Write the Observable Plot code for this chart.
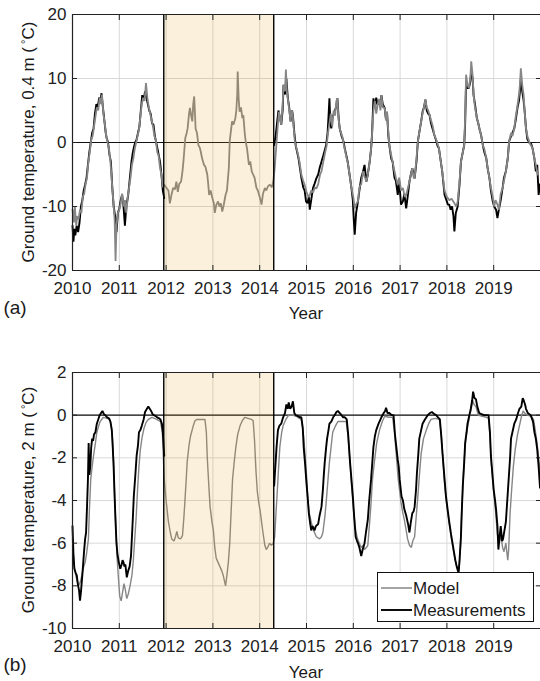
<!DOCTYPE html>
<html><head><meta charset="utf-8">
<script src="https://cdn.jsdelivr.net/npm/d3@7"></script>
<script src="https://cdn.jsdelivr.net/npm/@observablehq/plot@0.6"></script>
<style>
body{margin:0;background:#fff;}
#wrap{position:relative;width:540px;height:681px;font-family:'Liberation Sans',Arial,sans-serif;color:#1a1a1a;overflow:hidden;}
#wrap svg{display:block;}
.lbl{position:absolute;white-space:nowrap;font-size:17px;line-height:1;transform:translate(-50%,-50%);}
.ylab{transform:translate(-50%,-50%) rotate(-90deg);}
.deg{font-size:11px;position:relative;top:-5px;margin-left:3px;}
.pan{font-size:19px;}
#legend{position:absolute;left:377px;top:572px;width:157px;height:50px;box-sizing:border-box;border:1px solid #111;background:#fff;font-size:17px;}
#legend .row{position:absolute;left:2px;height:20px;display:flex;align-items:center;}
#legend .row span{margin-left:1px;line-height:1;}
</style></head>
<body><div id="wrap"></div>
<script>
const years = [2010,2011,2012,2013,2014,2015,2016,2017,2018,2019];
const xDomain = [2010, 2020];
const yTicksA = [-20,-10,0,10,20];
const yTicksB = [-10,-8,-6,-4,-2,0,2];
const gap = [2011.95, 2014.30];
const legendLabels = ["Model", "Measurements"];

// Panel (a): ground temperature at 0.4 m
const modelA = [[2010.00,-10.5],[2010.03,-12.5],[2010.05,-10],[2010.08,-13],[2010.10,-11.5],[2010.13,-12],[2010.16,-10.5],[2010.19,-11],[2010.22,-8.5],[2010.25,-8],[2010.28,-6.5],[2010.31,-5.5],[2010.34,-3],[2010.37,-1.5],[2010.40,0.5],[2010.43,1],[2010.46,2.5],[2010.49,4],[2010.52,5.5],[2010.55,5],[2010.58,7],[2010.61,6],[2010.63,7.5],[2010.66,4.5],[2010.69,3],[2010.72,1],[2010.75,0],[2010.78,-1],[2010.81,-3],[2010.84,-6],[2010.87,-9],[2010.90,-12],[2010.92,-18.5],[2010.94,-13],[2010.97,-11],[2011.00,-10.5],[2011.03,-9.5],[2011.06,-8],[2011.09,-10],[2011.12,-9],[2011.15,-11],[2011.18,-8.5],[2011.21,-7],[2011.24,-5.5],[2011.27,-3.5],[2011.30,-2.5],[2011.33,-1],[2011.36,0],[2011.39,1],[2011.42,2],[2011.45,4],[2011.48,6],[2011.51,7],[2011.54,6.5],[2011.57,9.3],[2011.60,7],[2011.63,5.5],[2011.66,4.5],[2011.69,3.5],[2011.72,2.5],[2011.75,1],[2011.78,0.5],[2011.81,-1.5],[2011.84,-2],[2011.87,-4],[2011.90,-5],[2011.93,-7],[2011.96,-6.6],[2012.01,-7.1],[2012.05,-7.5],[2012.08,-9.5],[2012.12,-8],[2012.15,-7.1],[2012.19,-7.3],[2012.22,-6.1],[2012.25,-7.7],[2012.28,-6.5],[2012.32,-6.1],[2012.35,-4.5],[2012.37,-3],[2012.41,0.7],[2012.44,1.5],[2012.46,2.2],[2012.49,4.5],[2012.51,5.4],[2012.54,4],[2012.56,3.3],[2012.58,6],[2012.60,7.2],[2012.62,4],[2012.63,2.2],[2012.66,1.5],[2012.69,-0.4],[2012.72,-0.8],[2012.74,-1.4],[2012.77,-2.5],[2012.81,-3.5],[2012.84,-3.8],[2012.88,-5],[2012.90,-6.5],[2012.92,-8.2],[2012.95,-7.5],[2012.99,-8.7],[2013.02,-9.5],[2013.04,-11],[2013.07,-9.8],[2013.11,-9.2],[2013.14,-10],[2013.17,-9.5],[2013.20,-10.8],[2013.23,-9.8],[2013.27,-8.2],[2013.30,-7.5],[2013.34,-4],[2013.36,0.2],[2013.38,1.5],[2013.41,3.3],[2013.44,2.8],[2013.48,3.8],[2013.50,5],[2013.52,7.5],[2013.53,11.1],[2013.55,7],[2013.57,4.8],[2013.60,5.5],[2013.63,3.8],[2013.65,4.3],[2013.68,1.5],[2013.70,0.2],[2013.73,-1],[2013.77,-3.5],[2013.80,-3],[2013.83,-4.5],[2013.86,-5],[2013.89,-5.5],[2013.93,-7.1],[2013.96,-7.5],[2014.00,-8.5],[2014.04,-9.7],[2014.07,-8],[2014.11,-7.1],[2014.14,-7.5],[2014.18,-6.8],[2014.22,-6.6],[2014.26,-7],[2014.29,-6.1],[2014.32,-4],[2014.35,-1],[2014.38,2],[2014.41,4.8],[2014.44,3.5],[2014.46,2.8],[2014.49,6],[2014.51,9],[2014.54,8],[2014.56,11.4],[2014.58,8],[2014.61,6.4],[2014.64,4.5],[2014.66,3.3],[2014.68,5],[2014.70,4.8],[2014.73,2],[2014.75,0.2],[2014.79,-1],[2014.82,-1.9],[2014.85,-3],[2014.89,-5],[2014.93,-6],[2014.96,-6.6],[2015.00,-7.7],[2015.04,-8.5],[2015.07,-8.2],[2015.10,-7.5],[2015.14,-7.8],[2015.18,-7],[2015.21,-7.2],[2015.25,-6.5],[2015.29,-5],[2015.32,-4.5],[2015.36,-3],[2015.40,-1.5],[2015.43,-0.5],[2015.46,1.5],[2015.49,3],[2015.52,4.5],[2015.55,2.5],[2015.58,5],[2015.61,4.2],[2015.64,6.5],[2015.66,6.9],[2015.68,4],[2015.71,2.2],[2015.74,1.5],[2015.77,0.8],[2015.80,-0.5],[2015.83,-1.5],[2015.86,-2.5],[2015.89,-3.5],[2015.92,-5],[2015.96,-7.1],[2016.00,-8.5],[2016.03,-10.3],[2016.07,-9.5],[2016.10,-9.2],[2016.13,-7],[2016.17,-6.5],[2016.21,-4.5],[2016.25,-5.5],[2016.28,-6.1],[2016.31,-5],[2016.35,-3],[2016.38,-1],[2016.40,1.2],[2016.43,5],[2016.46,6.5],[2016.49,4.5],[2016.52,5.9],[2016.55,6.8],[2016.58,5],[2016.60,7.4],[2016.63,5.5],[2016.67,5.4],[2016.70,3.5],[2016.72,4.8],[2016.75,1.5],[2016.77,-0.4],[2016.81,-2],[2016.84,-3],[2016.88,-4.5],[2016.91,-5.5],[2016.95,-6.6],[2016.98,-5.5],[2017.02,-7.5],[2017.06,-7.1],[2017.10,-8.5],[2017.13,-8.2],[2017.17,-7],[2017.20,-6.1],[2017.23,-5],[2017.26,-4],[2017.29,-5.5],[2017.31,-5.6],[2017.35,-2.5],[2017.38,0.2],[2017.42,2],[2017.45,3.3],[2017.48,4.5],[2017.51,5.5],[2017.54,6.7],[2017.57,5.5],[2017.60,5],[2017.63,4.3],[2017.66,3.5],[2017.70,2.5],[2017.73,1.2],[2017.77,0.5],[2017.80,-0.2],[2017.83,-0.9],[2017.87,-3],[2017.90,-4.5],[2017.95,-7.5],[2018.00,-8.5],[2018.05,-9],[2018.10,-8.8],[2018.16,-9.5],[2018.20,-10],[2018.23,-9.2],[2018.27,-6],[2018.30,-3],[2018.34,-1.5],[2018.37,-0.4],[2018.39,4],[2018.41,10.6],[2018.44,9],[2018.47,8.5],[2018.50,10],[2018.52,12.7],[2018.55,10.5],[2018.57,7.4],[2018.60,5.5],[2018.64,3.8],[2018.67,3],[2018.70,2],[2018.73,1.2],[2018.77,-0.5],[2018.80,-1],[2018.84,-2.4],[2018.87,-4],[2018.91,-5.6],[2018.94,-7],[2018.98,-8.5],[2019.01,-10],[2019.04,-9],[2019.08,-9.7],[2019.11,-10.5],[2019.15,-8],[2019.19,-7.1],[2019.22,-6],[2019.26,-4.5],[2019.30,-2.5],[2019.33,0.2],[2019.37,1.5],[2019.40,1],[2019.44,2.2],[2019.47,4],[2019.51,5.9],[2019.54,7.5],[2019.56,9],[2019.58,11.6],[2019.61,9],[2019.64,7.4],[2019.66,5],[2019.69,2.2],[2019.72,1],[2019.77,-0.1],[2019.80,-0.5],[2019.83,-0.9],[2019.87,-2.5],[2019.90,-3.5],[2019.94,-5]];
const measA1 = [[2010.00,-13],[2010.02,-15.5],[2010.04,-13.5],[2010.06,-14.5],[2010.09,-13],[2010.12,-14],[2010.15,-12.5],[2010.18,-10],[2010.21,-9],[2010.24,-7.5],[2010.27,-6.6],[2010.30,-5.5],[2010.33,-3.5],[2010.36,-1.5],[2010.39,0],[2010.42,1.5],[2010.45,2.2],[2010.48,4.5],[2010.51,6],[2010.54,5.5],[2010.57,7],[2010.60,6.5],[2010.62,7.7],[2010.65,5.5],[2010.68,3.5],[2010.71,1.5],[2010.73,0.7],[2010.76,0],[2010.79,-1.9],[2010.82,-3],[2010.85,-7],[2010.88,-10],[2010.91,-11.5],[2010.94,-14],[2010.97,-11],[2011.00,-10.3],[2011.03,-9],[2011.06,-8.2],[2011.09,-10],[2011.12,-13],[2011.15,-10],[2011.19,-8.2],[2011.22,-6],[2011.26,-3],[2011.29,-1.5],[2011.32,-0.5],[2011.34,0],[2011.37,0.5],[2011.40,1.5],[2011.43,2.5],[2011.46,5],[2011.49,7.4],[2011.52,6.5],[2011.55,8],[2011.58,7],[2011.61,6],[2011.64,5],[2011.67,4.5],[2011.70,3],[2011.73,2.8],[2011.76,1],[2011.80,-0.4],[2011.83,-1.5],[2011.87,-3],[2011.90,-5],[2011.93,-7.5],[2011.96,-8.7]];
const measA2 = [[2014.31,-0.4],[2014.34,1],[2014.37,3],[2014.40,5],[2014.43,4],[2014.46,2.8],[2014.49,5],[2014.51,9],[2014.54,7.5],[2014.57,10],[2014.60,7],[2014.63,5.5],[2014.66,3.3],[2014.69,5],[2014.71,4.2],[2014.74,1.5],[2014.77,-0.5],[2014.80,-1.5],[2014.83,-2.5],[2014.86,-4],[2014.89,-5.5],[2014.93,-7],[2014.96,-7.5],[2014.99,-9.2],[2015.02,-9.5],[2015.05,-8.5],[2015.07,-10.5],[2015.10,-9],[2015.14,-7.1],[2015.17,-6.5],[2015.21,-5.6],[2015.25,-5],[2015.28,-4],[2015.32,-3],[2015.36,-2],[2015.39,-1.2],[2015.42,-0.4],[2015.45,1.5],[2015.47,4],[2015.49,6.9],[2015.51,3],[2015.53,2.2],[2015.56,4],[2015.60,4.8],[2015.63,5.5],[2015.66,6.9],[2015.69,3.5],[2015.71,2.2],[2015.75,1],[2015.79,0.2],[2015.82,-1],[2015.85,-2],[2015.88,-3],[2015.92,-5],[2015.96,-7.1],[2015.99,-9],[2016.01,-12],[2016.03,-14.4],[2016.06,-11],[2016.10,-9.2],[2016.13,-7.5],[2016.17,-5.5],[2016.21,-4.5],[2016.24,-3.5],[2016.28,-6.1],[2016.31,-5],[2016.35,-3],[2016.38,-1],[2016.40,1.2],[2016.43,6.9],[2016.46,5.5],[2016.49,7],[2016.52,5.9],[2016.55,6.5],[2016.58,5.5],[2016.60,7.4],[2016.63,6],[2016.67,5.4],[2016.70,3.5],[2016.72,4.8],[2016.75,1],[2016.77,-0.4],[2016.81,-2.5],[2016.84,-3],[2016.88,-5.5],[2016.91,-6],[2016.95,-8.2],[2016.98,-6],[2017.02,-9.7],[2017.06,-9.2],[2017.09,-8],[2017.13,-10.3],[2017.17,-8],[2017.20,-6.1],[2017.23,-5],[2017.26,-4],[2017.29,-5],[2017.31,-5.6],[2017.35,-3],[2017.38,0.2],[2017.42,2],[2017.45,3.3],[2017.48,4.8],[2017.51,5.5],[2017.54,6.7],[2017.57,5],[2017.60,4.5],[2017.63,4.3],[2017.66,3],[2017.70,2],[2017.73,1.2],[2017.77,0.3],[2017.80,-0.5],[2017.83,-0.9],[2017.87,-3],[2017.90,-4.5],[2017.95,-8.2],[2017.99,-9],[2018.02,-9.7],[2018.05,-9.7],[2018.08,-10.5],[2018.11,-10],[2018.14,-11.5],[2018.16,-13.9],[2018.19,-11],[2018.23,-10],[2018.27,-6.5],[2018.30,-3],[2018.34,-1.5],[2018.37,-0.4],[2018.39,3],[2018.41,9.5],[2018.44,8.5],[2018.47,8.5],[2018.50,9.5],[2018.52,11],[2018.55,10],[2018.57,7.4],[2018.60,6],[2018.64,3.8],[2018.67,3],[2018.70,2],[2018.73,1.2],[2018.77,-0.5],[2018.80,-1.5],[2018.84,-2.4],[2018.87,-4],[2018.91,-5.6],[2018.94,-7.5],[2018.98,-9.2],[2019.01,-10],[2019.05,-10.5],[2019.08,-11.8],[2019.11,-10.5],[2019.15,-9],[2019.19,-7.1],[2019.22,-5.5],[2019.26,-4.5],[2019.30,-2.5],[2019.33,0.2],[2019.37,1],[2019.40,1.5],[2019.44,2.2],[2019.47,3.5],[2019.51,5.5],[2019.54,6.5],[2019.56,8],[2019.58,10],[2019.61,8],[2019.64,6.5],[2019.66,5],[2019.69,2.2],[2019.72,0.5],[2019.77,-0.1],[2019.80,-0.2],[2019.83,-0.9],[2019.87,-2.5],[2019.90,-4.5],[2019.93,-3.5],[2019.96,-8.2],[2019.99,-6.5]];

// Panel (b): ground temperature at 2 m
const modelB = [[2010.00,-5.8],[2010.03,-7],[2010.06,-7.4],[2010.10,-7.8],[2010.13,-8],[2010.17,-7.8],[2010.20,-7.5],[2010.24,-7.1],[2010.27,-6.9],[2010.30,-6.5],[2010.34,-5.8],[2010.36,-4.5],[2010.39,-3],[2010.42,-2.4],[2010.45,-1.9],[2010.49,-1.3],[2010.52,-0.8],[2010.56,-0.5],[2010.59,-0.3],[2010.66,-0.1],[2010.74,-0.15],[2010.80,-0.2],[2010.83,-0.5],[2010.85,-1],[2010.88,-2.2],[2010.90,-3.8],[2010.93,-5.4],[2010.95,-6.6],[2010.98,-7.6],[2011.01,-8.5],[2011.04,-8.7],[2011.07,-8.3],[2011.10,-7.9],[2011.13,-8.2],[2011.16,-8.6],[2011.19,-8.4],[2011.23,-8.0],[2011.27,-7.5],[2011.30,-6.8],[2011.33,-5.8],[2011.36,-4.8],[2011.39,-3.5],[2011.42,-2.4],[2011.45,-1.6],[2011.49,-1.0],[2011.53,-0.6],[2011.57,-0.35],[2011.62,-0.2],[2011.70,-0.1],[2011.80,-0.2],[2011.88,-0.3],[2011.92,-0.8],[2011.96,-3],[2012.00,-4],[2012.05,-5],[2012.09,-5.5],[2012.12,-5.8],[2012.17,-5.9],[2012.20,-5.7],[2012.23,-5.45],[2012.26,-5.75],[2012.31,-5.8],[2012.35,-5.65],[2012.38,-4.8],[2012.40,-4.1],[2012.43,-3],[2012.45,-2.2],[2012.49,-1.4],[2012.52,-1],[2012.58,-0.5],[2012.62,-0.25],[2012.66,-0.2],[2012.75,-0.2],[2012.83,-0.2],[2012.86,-0.8],[2012.88,-2],[2012.91,-3.2],[2012.94,-4.3],[2012.98,-5],[2013.01,-5.4],[2013.04,-6.2],[2013.07,-6.7],[2013.11,-6.9],[2013.15,-7.1],[2013.19,-7.3],[2013.22,-7.5],[2013.25,-7.8],[2013.27,-8.0],[2013.30,-7.5],[2013.33,-6.9],[2013.36,-6],[2013.38,-5],[2013.40,-4],[2013.42,-3],[2013.46,-2.1],[2013.49,-1.5],[2013.53,-0.9],[2013.58,-0.5],[2013.63,-0.25],[2013.68,-0.1],[2013.75,-0.15],[2013.82,-0.2],[2013.86,-0.25],[2013.89,-1.2],[2013.92,-2.6],[2013.95,-3.6],[2013.98,-4.1],[2014.01,-4.5],[2014.04,-5],[2014.07,-5.5],[2014.11,-6.1],[2014.14,-6.3],[2014.17,-6.2],[2014.21,-6],[2014.25,-6.1],[2014.29,-6],[2014.32,-5.7],[2014.35,-4.5],[2014.37,-3.8],[2014.40,-2.6],[2014.43,-1.5],[2014.47,-0.8],[2014.50,-0.5],[2014.56,-0.2],[2014.62,0],[2014.70,0],[2014.78,-0.05],[2014.85,-0.15],[2014.89,-0.2],[2014.93,-0.8],[2014.96,-1.6],[2015.00,-2.8],[2015.03,-4],[2015.06,-4.6],[2015.10,-5],[2015.15,-5.4],[2015.21,-5.7],[2015.28,-5.8],[2015.32,-5.7],[2015.35,-5.5],[2015.39,-4.8],[2015.42,-4.1],[2015.46,-3],[2015.49,-2.2],[2015.53,-1.4],[2015.56,-0.8],[2015.62,-0.5],[2015.67,-0.3],[2015.76,-0.3],[2015.85,-0.3],[2015.89,-1],[2015.93,-2.2],[2015.97,-3.5],[2016.01,-4.6],[2016.05,-5.4],[2016.09,-5.8],[2016.13,-6],[2016.17,-6.2],[2016.21,-6.1],[2016.24,-6.3],[2016.28,-6.2],[2016.31,-6.1],[2016.35,-5],[2016.38,-4.1],[2016.41,-3],[2016.45,-2.2],[2016.50,-1.3],[2016.56,-0.7],[2016.62,-0.3],[2016.67,-0.05],[2016.76,-0.1],[2016.84,-0.1],[2016.88,-0.8],[2016.92,-1.9],[2016.96,-3],[2017.02,-4.1],[2017.06,-4.6],[2017.09,-4.9],[2017.13,-5.4],[2017.16,-5.8],[2017.20,-6.1],[2017.24,-6.2],[2017.27,-5.9],[2017.31,-5.7],[2017.35,-4.6],[2017.38,-3.8],[2017.42,-2.6],[2017.45,-1.8],[2017.50,-1.1],[2017.56,-0.7],[2017.61,-0.4],[2017.66,-0.2],[2017.75,-0.15],[2017.84,-0.2],[2017.88,-0.9],[2017.91,-1.9],[2017.95,-3.2],[2017.98,-3.9],[2018.02,-4.6],[2018.05,-5.1],[2018.09,-5.7],[2018.12,-6.1],[2018.16,-6.6],[2018.20,-7],[2018.24,-7.3],[2018.26,-7.2],[2018.29,-6.2],[2018.31,-4.8],[2018.34,-3.4],[2018.37,-2.1],[2018.40,-1.2],[2018.44,-0.6],[2018.48,-0.1],[2018.52,0.3],[2018.55,0.7],[2018.58,0.5],[2018.62,0.4],[2018.67,0],[2018.75,-0.05],[2018.85,-0.1],[2018.89,-0.15],[2018.92,-1],[2018.95,-2.3],[2019.00,-3.6],[2019.04,-4.5],[2019.08,-5.6],[2019.12,-6],[2019.15,-5.6],[2019.19,-6.2],[2019.22,-6.4],[2019.26,-6],[2019.30,-6.8],[2019.32,-6.3],[2019.35,-4.6],[2019.38,-3.6],[2019.42,-2.4],[2019.46,-1.6],[2019.51,-0.9],[2019.56,-0.4],[2019.60,0],[2019.63,0.2],[2019.66,0.1],[2019.72,0],[2019.80,-0.05],[2019.85,-0.2],[2019.88,-0.6],[2019.92,-1.2],[2019.96,-2],[2019.99,-2.6]];
const measB1 = [[2010.00,-5.2],[2010.02,-6.5],[2010.04,-7.2],[2010.07,-7.4],[2010.09,-7.5],[2010.12,-8],[2010.14,-8.2],[2010.16,-8.7],[2010.18,-8.3],[2010.21,-7.5],[2010.23,-6.9],[2010.25,-6.3],[2010.27,-5.8],[2010.29,-5.5],[2010.31,-4.3],[2010.33,-3],[2010.345,-1.3],[2010.36,-2.8],[2010.38,-2.4],[2010.40,-1.5],[2010.42,-1.1],[2010.44,-1.2],[2010.46,-0.9],[2010.49,-0.8],[2010.52,-0.4],[2010.55,-0.2],[2010.58,0],[2010.61,0.1],[2010.64,0.2],[2010.67,0.05],[2010.70,0],[2010.74,-0.1],[2010.78,-0.15],[2010.81,-0.3],[2010.84,-0.7],[2010.86,-1.5],[2010.88,-2.5],[2010.90,-3.8],[2010.92,-5],[2010.94,-6],[2010.96,-6.5],[2010.99,-6.9],[2011.02,-7.2],[2011.05,-7.0],[2011.07,-6.8],[2011.09,-6.9],[2011.11,-7.1],[2011.13,-7.0],[2011.16,-7.6],[2011.19,-7.3],[2011.22,-7.1],[2011.25,-6.6],[2011.27,-5.7],[2011.29,-4.8],[2011.31,-3.8],[2011.34,-2.9],[2011.37,-1.9],[2011.40,-1.4],[2011.42,-0.8],[2011.45,-0.7],[2011.48,-0.5],[2011.52,-0.2],[2011.55,0.15],[2011.59,0.3],[2011.62,0.4],[2011.65,0.3],[2011.68,0.2],[2011.71,0.05],[2011.74,0],[2011.78,-0.05],[2011.81,-0.1],[2011.85,-0.15],[2011.88,-0.2],[2011.91,-0.4],[2011.93,-0.8],[2011.96,-1.9]];
const measB2 = [[2014.31,-3.3],[2014.32,-2.9],[2014.34,-2.2],[2014.36,-1.5],[2014.39,-0.7],[2014.42,-0.5],[2014.46,-0.4],[2014.50,-0.1],[2014.54,0.1],[2014.57,0.5],[2014.60,0.3],[2014.62,0.6],[2014.65,0.3],[2014.68,0.4],[2014.71,0.65],[2014.74,0.1],[2014.77,0],[2014.82,-0.05],[2014.86,-0.1],[2014.89,-0.1],[2014.92,-0.6],[2014.94,-1.5],[2014.97,-2.3],[2015.00,-3.2],[2015.03,-4],[2015.05,-4.6],[2015.08,-5.1],[2015.10,-5.4],[2015.13,-5.2],[2015.17,-5.4],[2015.20,-5.2],[2015.25,-5.1],[2015.28,-4.7],[2015.32,-4.3],[2015.35,-3.5],[2015.37,-2.8],[2015.39,-2.2],[2015.42,-1.5],[2015.44,-1.1],[2015.47,-0.7],[2015.49,-0.4],[2015.53,-0.3],[2015.57,-0.1],[2015.60,0],[2015.64,0.15],[2015.67,0.2],[2015.71,0.1],[2015.75,0],[2015.78,-0.1],[2015.82,-0.1],[2015.86,-0.2],[2015.89,-0.9],[2015.93,-2.2],[2015.96,-3],[2015.99,-3.8],[2016.02,-4.8],[2016.05,-5.7],[2016.08,-5.9],[2016.10,-6],[2016.13,-6.2],[2016.17,-6.6],[2016.20,-6.3],[2016.24,-6],[2016.27,-5.5],[2016.31,-4.9],[2016.34,-4],[2016.38,-3],[2016.41,-2.1],[2016.43,-1.5],[2016.46,-1],[2016.49,-0.7],[2016.54,-0.4],[2016.60,-0.1],[2016.65,0.1],[2016.68,0.2],[2016.70,0.35],[2016.73,0.1],[2016.77,0.1],[2016.82,0],[2016.86,0],[2016.89,-0.9],[2016.92,-1.5],[2016.95,-2.1],[2016.97,-2.4],[2016.99,-3],[2017.03,-3.8],[2017.06,-4],[2017.09,-4.4],[2017.13,-4.7],[2017.17,-5.1],[2017.20,-5.5],[2017.23,-5],[2017.26,-4.6],[2017.29,-4.5],[2017.31,-4.3],[2017.34,-3.5],[2017.36,-2.7],[2017.39,-1.8],[2017.41,-1.1],[2017.45,-0.7],[2017.48,-0.4],[2017.53,-0.2],[2017.59,0],[2017.64,0.1],[2017.68,0.15],[2017.73,0.05],[2017.77,0],[2017.81,-0.1],[2017.85,-0.2],[2017.88,-1],[2017.91,-1.9],[2017.95,-3],[2017.98,-3.8],[2018.02,-4.5],[2018.05,-5],[2018.09,-5.6],[2018.12,-6],[2018.15,-6.4],[2018.18,-6.8],[2018.21,-7.1],[2018.25,-7.4],[2018.27,-6.8],[2018.30,-5.7],[2018.32,-4.4],[2018.34,-3.3],[2018.37,-2.2],[2018.39,-1.3],[2018.42,-0.8],[2018.44,-0.4],[2018.48,0],[2018.51,0.3],[2018.54,0.7],[2018.56,1.1],[2018.59,0.8],[2018.62,0.75],[2018.65,0.4],[2018.69,0.1],[2018.74,0.05],[2018.80,0],[2018.85,0],[2018.89,0],[2018.92,-0.8],[2018.94,-1.9],[2018.97,-2.7],[2019.00,-3.5],[2019.03,-4],[2019.05,-4.4],[2019.08,-5.2],[2019.10,-6.3],[2019.13,-5.6],[2019.15,-5.2],[2019.18,-5.9],[2019.20,-5.8],[2019.23,-5.4],[2019.26,-5],[2019.29,-4],[2019.32,-3],[2019.35,-2],[2019.37,-1.1],[2019.40,-0.8],[2019.44,-0.4],[2019.48,-0.2],[2019.52,0.1],[2019.55,0.3],[2019.59,0.4],[2019.62,0.8],[2019.64,0.7],[2019.67,0.5],[2019.69,0.3],[2019.73,0.1],[2019.79,0],[2019.84,-0.3],[2019.87,-0.8],[2019.90,-1.1],[2019.93,-1.6],[2019.96,-2.4],[2019.99,-3.4]];

const FONT = "'Liberation Sans', Arial, sans-serif";
const AX = "#222";
const MODEL_COLOR = "#868686";

function panel({height, marginTop, marginBottom, yTicks, model, meas, modelOnTop, modelWidth, measWidth}) {
  const yDom = [yTicks[0], yTicks[yTicks.length - 1]];
  const modelLine = Plot.line(model, {x: d => d[0], y: d => d[1], stroke: MODEL_COLOR, strokeWidth: modelWidth, strokeLinejoin: "miter"});
  const measLines = meas.map(seg => Plot.line(seg, {x: d => d[0], y: d => d[1], stroke: "#000", strokeWidth: measWidth, strokeLinejoin: "miter"}));
  const lines = modelOnTop ? [...measLines, modelLine] : [modelLine, ...measLines];
  return Plot.plot({
    width: 540, height, marginLeft: 72, marginRight: 0, marginTop, marginBottom,
    x: {domain: xDomain, label: null},
    y: {domain: yDom, label: null},
    style: {fontFamily: FONT, fontSize: "17px", background: "transparent", color: AX, overflow: "visible"},
    marks: [
      Plot.gridX(years, {stroke: "#d9d9d9", strokeOpacity: 1, strokeWidth: 1}),
      Plot.gridY(yTicks, {stroke: "#d9d9d9", strokeOpacity: 1, strokeWidth: 1}),
      Plot.ruleY([0], {stroke: "#111", strokeWidth: 1.2}),
      ...lines,
      Plot.rect([gap], {x1: d => d[0], x2: d => d[1], fill: "#DE9B16", fillOpacity: 0.15}),
      Plot.ruleX(gap, {stroke: "#000", strokeWidth: 1.4}),
      Plot.ruleX([xDomain[0]], {stroke: AX, strokeWidth: 1.2}),
      Plot.ruleY(yDom, {stroke: AX, strokeWidth: 1.2}),
      Plot.axisX(years, {anchor: "bottom", tickSize: -5, fill: "none", stroke: AX, label: null}),
      Plot.axisX(years, {anchor: "top", tickSize: -5, fill: "none", stroke: AX, label: null}),
      Plot.axisY(yTicks, {anchor: "left", tickSize: -5, fill: "none", stroke: AX, label: null}),
      Plot.axisY(yTicks, {anchor: "right", tickSize: -5, fill: "none", stroke: AX, label: null}),
      Plot.axisX(years, {anchor: "bottom", tickSize: 0, tickPadding: 11, tickFormat: d => String(d), fill: AX, fontSize: 17, label: null}),
      Plot.axisY(yTicks, {anchor: "left", tickSize: 0, tickPadding: 6, tickFormat: d => String(d), fill: AX, fontSize: 17, label: null})
    ]
  });
}

const wrap = document.getElementById("wrap");
wrap.append(panel({height: 330, marginTop: 14, marginBottom: 60, yTicks: yTicksA, model: modelA, meas: [measA1, measA2], modelOnTop: true, modelWidth: 1.8, measWidth: 1.9}));
wrap.append(panel({height: 351, marginTop: 42, marginBottom: 53, yTicks: yTicksB, model: modelB, meas: [measB1, measB2], modelOnTop: false, modelWidth: 1.4, measWidth: 1.9}));

function label(html, cx, cy, cls) {
  const d = document.createElement("div");
  d.className = "lbl " + (cls || "");
  d.innerHTML = html;
  d.style.left = cx + "px";
  d.style.top = cy + "px";
  wrap.append(d);
}
label('Ground temperature, 0.4 m (<span class="deg">°</span>C)', 28, 142, "ylab");
label('Ground temperature, 2 m (<span class="deg">°</span>C)', 28, 500, "ylab");
label("Year", 306, 313);
label("Year", 306, 672);
label("(a)", 15, 307, "pan");
label("(b)", 15, 664, "pan");

const lg = document.createElement("div");
lg.id = "legend";
const legendColors = [MODEL_COLOR, "#000"];
const legendWidths = [1.5, 1.9];
legendLabels.forEach((name, i) => {
  const row = document.createElement("div");
  row.className = "row";
  row.style.top = (5 + i * 22) + "px";
  row.innerHTML = `<svg width="32" height="20"><line x1="1" x2="32" y1="10" y2="10" stroke="${legendColors[i]}" stroke-width="${legendWidths[i]}"/></svg><span>${name}</span>`;
  lg.append(row);
});
wrap.append(lg);
</script>
</body></html>
